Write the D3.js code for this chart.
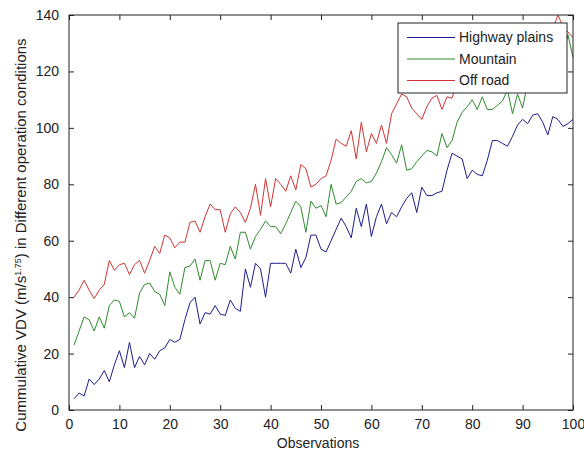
<!DOCTYPE html>
<html>
<head>
<meta charset="utf-8">
<script src="https://cdn.jsdelivr.net/npm/d3@7"></script>
<style>
  body { margin: 0; background: #fff; }
  text { font-family: "Liberation Sans", Arial, sans-serif; }
</style>
</head>
<body>
<div id="chart"></div>
<script>
var highway = [4, 6, 5, 11, 9, 11, 14, 10, 16, 21, 15, 24, 15, 19, 16, 20, 18, 21, 22, 25,
  24, 25, 32, 38, 40, 30.5, 34.5, 34, 37, 34, 33.5, 39, 36, 35, 50, 43.5, 52, 50, 40, 52,
  52, 52, 52, 48.5, 57, 50.5, 54, 62, 62, 57, 56, 60, 64, 68, 65, 61, 71.5, 65, 73, 61.5,
  68.5, 73, 66, 70, 68.5, 72, 75, 77, 70, 79, 76, 76, 77, 77.5, 85, 91, 90, 89, 82, 85,
  83.5, 83, 88.5, 95.5, 95.5, 94.5, 93.5, 97, 101, 103, 101.5, 104.5, 105, 102, 97.5, 104, 103, 100.5, 101.5, 103]
var mountain = [23, 28, 33, 32, 28, 33, 29, 37, 39, 38.5, 33, 34.5, 32.5, 41.5, 44.5, 45, 42, 41, 37, 49,
  43.5, 41, 50.5, 51, 53.5, 46, 53, 53, 46, 52, 51.5, 58, 53.5, 63, 63, 57, 61.5, 64, 67, 65,
  65, 62.5, 66, 70, 74, 72, 63, 74, 71.5, 72.5, 68.5, 80, 73, 73.5, 75.5, 77.5, 81, 82, 80.5, 81,
  84, 88, 93, 90.5, 87.5, 94, 85, 85.5, 88, 90, 92, 91.5, 90, 98, 93, 95.5, 102, 105.5, 107.5, 110,
  106.5, 111, 106.5, 106.5, 108, 109.5, 113.5, 105, 112, 107, 116, 113, 120, 118, 123, 121, 127, 125, 133, 125]
var offroad = [40, 42.5, 46, 42.5, 39.5, 42.5, 44.5, 53, 49.5, 51.5, 52, 48, 51.5, 53, 48.5, 53, 58, 55.5, 62, 61,
  57.5, 59.5, 59.5, 66.5, 67, 63, 68.5, 73, 71, 71, 63, 69.5, 72, 70, 66.5, 71.5, 80, 69, 82, 72,
  82, 80, 77.5, 83, 78, 87, 85.5, 79, 80, 82, 83, 88.5, 96, 94.5, 93.5, 99, 89, 102, 91.5, 98,
  94.5, 101, 94.5, 105, 108.5, 112, 111, 107, 105, 103, 107.5, 110.5, 111.5, 106.5, 111, 110.5, 116, 113, 119, 114,
  117, 121, 115, 123, 118, 125, 120, 127, 122, 128, 124, 131, 126, 133, 129, 135, 140, 136, 134, 132]

var seriesNames = ['Highway plains', 'Mountain', 'Off road']
var seriesColors = ['#1c1c8c', '#2f8a2f', '#d03434']
var xTicks = [0, 10, 20, 30, 40, 50, 60, 70, 80, 90, 100]
var yTicks = [0, 20, 40, 60, 80, 100, 120, 140]

var width = 584
var height = 454
var plot = {left: 69, right: 573, top: 15, bottom: 410}

var svg = d3.select('#chart').append('svg')
            .attr('width', width)
            .attr('height', height)

var x = d3.scaleLinear().domain([0, 100]).range([plot.left, plot.right])
var y = d3.scaleLinear().domain([0, 140]).range([plot.bottom, plot.top])

// ticks point inward on all four sides, like matlab's box
var tickLen = 5
var axisFont = (g) => g.selectAll('text')
                       .style('font-family', '"Liberation Sans", Arial, sans-serif')
                       .style('font-size', '14px')
                       .attr('fill', '#222')

svg.append('g')
   .attr('transform', 'translate(0,' + plot.bottom + ')')
   .call(d3.axisBottom(x).tickValues(xTicks).tickSizeInner(-tickLen).tickSizeOuter(0).tickPadding(9))
   .call(axisFont)
svg.append('g')
   .attr('transform', 'translate(0,' + plot.top + ')')
   .call(d3.axisTop(x).tickValues(xTicks).tickSizeInner(-tickLen).tickSizeOuter(0).tickFormat(''))
svg.append('g')
   .attr('transform', 'translate(' + plot.left + ',0)')
   .call(d3.axisLeft(y).tickValues(yTicks).tickSizeInner(-tickLen).tickSizeOuter(0).tickPadding(10))
   .call(axisFont)
svg.append('g')
   .attr('transform', 'translate(' + plot.right + ',0)')
   .call(d3.axisRight(y).tickValues(yTicks).tickSizeInner(-tickLen).tickSizeOuter(0).tickFormat(''))

svg.selectAll('.domain').remove()
svg.selectAll('.tick line').attr('stroke', '#222')

var line = d3.line()
             .x((d, i) => x(i + 1))
             .y((d) => y(d))

var allSeries = [highway, mountain, offroad]
svg.append('g').selectAll('path')
   .data(allSeries)
   .enter()
     .append('path')
     .attr('d', line)
     .attr('fill', 'none')
     .attr('stroke', (d, i) => seriesColors[i])
     .attr('stroke-width', 1)

// axes box
svg.append('rect')
   .attr('x', plot.left)
   .attr('y', plot.top)
   .attr('width', plot.right - plot.left)
   .attr('height', plot.bottom - plot.top)
   .attr('fill', 'none')
   .attr('stroke', '#222')
   .attr('stroke-width', 1)

// legend
var legend = svg.append('g').attr('transform', 'translate(398,23)')
legend.append('rect')
      .attr('width', 169)
      .attr('height', 70)
      .attr('fill', '#fff')
      .attr('stroke', '#222')
var item = legend.selectAll('.item')
                 .data(seriesNames)
                 .enter()
                   .append('g')
                   .attr('transform', (d, i) => 'translate(0,' + (14.5 + i * 21.5) + ')')
item.append('line')
    .attr('x1', 9).attr('x2', 57)
    .attr('stroke', (d, i) => seriesColors[i])
item.append('text')
    .attr('x', 61)
    .attr('dy', '0.35em')
    .style('font-size', '14px')
    .attr('fill', '#222')
    .text((d) => d)

// axis labels
svg.append('text')
   .attr('x', 318)
   .attr('y', 448)
   .attr('text-anchor', 'middle')
   .style('font-size', '14px')
   .attr('fill', '#222')
   .text('Observations')

var ylab = svg.append('text')
              .attr('transform', 'translate(26,235) rotate(-90)')
              .attr('text-anchor', 'middle')
              .style('font-size', '15px')
              .attr('fill', '#222')
ylab.append('tspan').text('Cummulative VDV (m/s')
ylab.append('tspan').attr('dy', -5).style('font-size', '9px').text('1.75')
ylab.append('tspan').attr('dy', 5).text(') in Different operation conditions')
</script>
</body>
</html>
